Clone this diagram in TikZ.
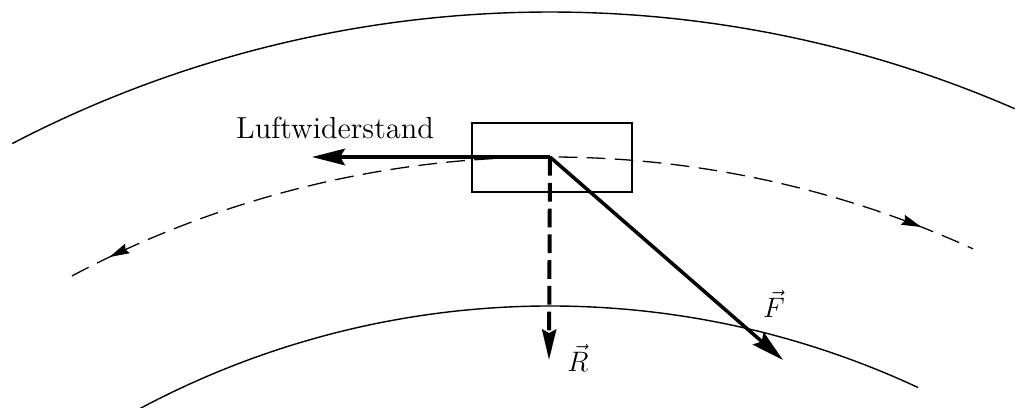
\documentclass[tikz,border=0pt]{standalone}
\usetikzlibrary{arrows.meta,decorations.markings}
\tikzset{smalltip/.tip={Stealth[length=8.5pt,width=4.5pt,inset=1pt]}}
\begin{document}
\begin{tikzpicture}[x=0.015cm,y=0.015cm,
  track/.style={line width=0.6pt},
  midtrack/.style={line width=0.55pt, dash pattern=on 8pt off 4pt},
  force/.style={line width=1.7pt},
  bigtip/.style={-{Stealth[length=14pt,width=7pt,inset=2pt]}},
  lbl/.style={inner sep=0pt}]
\useasboundingbox (0,0) rectangle (1016,408);
\coordinate (C) at (550,-769);
% outer and inner solid arcs
\draw[track] (C) ++(117.49:17.475cm) arc[start angle=117.49, end angle=66.49, radius=17.475cm];
\draw[track] (C) ++(118.3:13.065cm) arc[start angle=118.3, end angle=65.0, radius=13.065cm];
% dashed middle arc with arrowheads
\draw[midtrack, postaction={decorate}, decoration={markings,
    mark=at position 0.045 with {\arrowreversed[solid]{smalltip}},
    mark=at position 0.94 with {\arrow[solid]{smalltip}}}]
  (C) ++(117.95:15.3cm) arc[start angle=117.95, end angle=65.5, radius=15.3cm];
% box
\node[draw, line width=0.9pt, minimum width=2.4cm, minimum height=1.035cm, inner sep=0pt] (box) at (552,250.5) {};
% force vectors
\coordinate (O) at (550,251);
\coordinate (L) at (312,251);
\coordinate (R) at (549,48);
\coordinate (F) at (783,48);
\draw[force, bigtip] (O) -- (L);
\draw[force, -{Stealth[length=13pt,width=6pt,inset=1.5pt]}, dash pattern=on 8pt off 3pt] (O) -- (R);
\draw[force, bigtip, line width=1.5pt] (O) -- (F);
% labels
\node[lbl, font=\fontsize{13}{15}\selectfont] (lw) at (335,280) {Luftwiderstand};
\node[lbl, font=\fontsize{12.5}{14}\selectfont] (rl) at (578,50) {$\vec{R}$};
\node[lbl, font=\fontsize{12.5}{14}\selectfont] (fl) at (774,104) {$\vec{F}$};
\end{tikzpicture}
\end{document}
